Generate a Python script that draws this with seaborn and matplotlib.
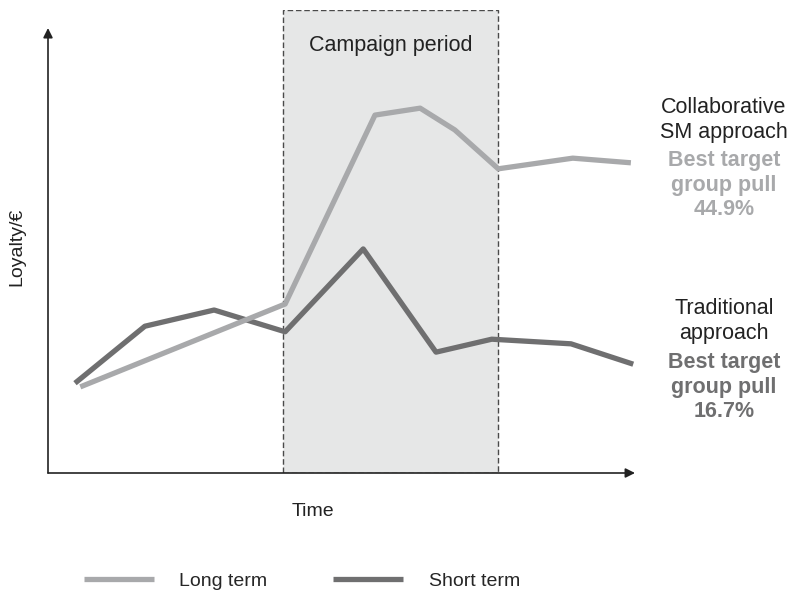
import matplotlib.pyplot as plt
import pandas as pd
import seaborn as sns
from matplotlib.lines import Line2D

# Values (arbitrary units, 0-100 on both axes)
long_time = [5.5, 40.4, 55.7, 63.4, 69.3, 76.7, 89.4, 99.3]
long_loyalty = [18.6, 36.5, 77.3, 78.8, 74.1, 65.7, 68.0, 67.0]

short_time = [4.6, 16.5, 28.3, 40.4, 53.7, 66.1, 75.6, 89.1, 99.7]
short_loyalty = [19.4, 31.7, 35.2, 30.5, 48.4, 26.1, 28.9, 27.9, 23.5]

campaign_start = 40.0
campaign_end = 76.7

series_names = ['Long term', 'Short term']
series_colors = ['#a8a9ab', '#6f6f70']

long_df = pd.DataFrame({'time': long_time, 'loyalty': long_loyalty})
short_df = pd.DataFrame({'time': short_time, 'loyalty': short_loyalty})

sns.set_theme(style='white')
plt.rcParams['font.family'] = ['Liberation Sans', 'DejaVu Sans']

fig = plt.figure(figsize=(7.92, 5.94), dpi=100)
ax = fig.add_axes([48 / 792, 121 / 594, 587 / 792, 463 / 594])

# Campaign period shading
ax.axvspan(campaign_start, campaign_end, facecolor='#e6e7e7', edgecolor='#4a4a4a',
           linestyle=(0, (4, 2)), linewidth=1.0, zorder=0)
ax.text((campaign_start + campaign_end) / 2, 92.3, 'Campaign period', ha='center', va='center',
        fontsize=15.5, color='#222222')

# Lines
sns.lineplot(data=long_df, x='time', y='loyalty', ax=ax, color=series_colors[0],
             linewidth=3.8, solid_capstyle='butt', zorder=3)
sns.lineplot(data=short_df, x='time', y='loyalty', ax=ax, color=series_colors[1],
             linewidth=3.8, solid_capstyle='butt', zorder=2)

ax.set_xlim(0, 100)
ax.set_ylim(0, 100)
ax.set_xticks([])
ax.set_yticks([])
ax.set_xlabel('')
ax.set_ylabel('')
sns.despine(ax=ax, left=True, bottom=True)

# Axis arrows
arrow = dict(arrowstyle='-|>', color='#222222', lw=1.2, mutation_scale=14, shrinkA=0, shrinkB=0)
ax.annotate('', xy=(1, 0), xytext=(0, 0), xycoords='axes fraction', arrowprops=arrow,
            annotation_clip=False)
ax.annotate('', xy=(0, 0.961), xytext=(0, 0), xycoords='axes fraction', arrowprops=arrow,
            annotation_clip=False)

# Axis labels
fig.text(313 / 792, 1 - 512 / 594, 'Time', ha='center', va='center', fontsize=14, color='#222222')
fig.text(17 / 792, 1 - 247 / 594, 'Loyalty/€', ha='center', va='center', rotation=90,
         fontsize=14, color='#222222')

# Right-hand annotations
fig.text(724 / 792, 1 - 120 / 594, 'Collaborative\nSM approach', ha='center', va='center',
         fontsize=15.5, color='#222222', linespacing=1.22)
fig.text(724 / 792, 1 - 185 / 594, 'Best target\ngroup pull\n44.9%', ha='center', va='center',
         fontsize=15.5, color=series_colors[0], fontweight='bold', linespacing=1.2)
fig.text(724 / 792, 1 - 321 / 594, 'Traditional\napproach', ha='center', va='center',
         fontsize=15.5, color='#222222', linespacing=1.22)
fig.text(724 / 792, 1 - 387 / 594, 'Best target\ngroup pull\n16.7%', ha='center', va='center',
         fontsize=15.5, color=series_colors[1], fontweight='bold', linespacing=1.2)

# Legend
handles = [Line2D([0], [0], color=c, lw=3.8, solid_capstyle='butt') for c in series_colors]
fig.legend(handles, series_names, loc='center', bbox_to_anchor=(302 / 792, 1 - 581 / 594),
           ncol=2, frameon=False, fontsize=14, handlelength=3.6, handletextpad=1.3,
           columnspacing=3.4, borderpad=0)

fig.savefig('out.png', dpi=100)
